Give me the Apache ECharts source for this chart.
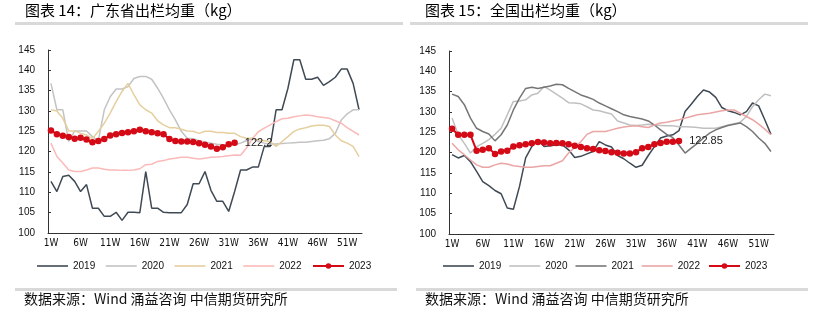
<!DOCTYPE html>
<html><head><meta charset="utf-8">
<script src="https://cdn.jsdelivr.net/npm/echarts@6.0.0/dist/echarts.min.js"></script>
<style>html,body{margin:0;padding:0;background:#fff}#c{width:827px;height:323px}</style>
</head><body><div id="c"></div>
<script>
var weeks = ['1W','2W','3W','4W','5W','6W','7W','8W','9W','10W','11W','12W','13W','14W','15W','16W','17W','18W','19W','20W','21W','22W','23W','24W','25W','26W','27W','28W','29W','30W','31W','32W','33W','34W','35W','36W','37W','38W','39W','40W','41W','42W','43W','44W','45W','46W','47W','48W','49W','50W','51W','52W','53W'];
var years = ['2019','2020','2021','2022','2023'];

// 图表14 广东省出栏均重
var gd2019 = [112.7,110.2,113.9,114.2,112.7,110.2,111.9,106.1,106.1,104.1,104.1,105.1,103.1,105.1,105.1,105,115.1,106.1,106.1,105.1,105,105,105,107,112.1,112.1,115.1,110.5,107.8,107.8,105.3,110.2,115.5,115.5,116.2,116.2,121.3,121.3,130.3,130.3,135.6,142.6,142.6,137.8,137.8,138.3,136.3,137.2,138.3,140.3,140.3,136.8,130.3];
var gd2020 = [136.8,130.3,130.3,122.5,125.1,125.1,125.1,123.7,122.7,130.3,133.5,135.4,135.4,136,138,138.5,138.5,137.8,135.6,133.1,130.3,127.8,125,123.3,123.2,122.7,122.3,122.1,121.8,121.7,121.5,121.7,122.1,122.7,123.2,122.5,122.1,121.9,121.9,122,122.1,122.2,122.3,122.3,122.5,122.7,122.8,123.2,124.5,127.8,129.3,130.3,130.3];
var gd2021 = [130.3,130,128.2,125.1,125.1,124.5,124.1,123.2,125,127,129.5,132.3,134.8,136.8,134,131.5,130.3,129.5,127.6,126.6,125.9,125.9,125.5,125.1,125,124.5,125,125,124.7,124.7,124.5,124.5,123.7,123.3,123.3,122.9,122.7,122.5,121.3,122.5,123.7,125,125.6,125.9,126.3,126.5,126.5,126.2,124.1,122.7,122.1,121.3,118.8];
var gd2022 = [122.1,118.8,117.2,115.5,115.1,115.1,115.5,116,116,115.7,115.5,115.5,115.4,115.4,115.5,115.8,116.8,116.9,117.6,117.8,118.2,118.4,118.6,118.6,118.4,118.2,118.4,118.6,118.7,118.8,119,119.2,119.1,120.9,123.2,124.9,125.8,126.6,127.4,128.1,128.2,128.6,128.8,129,128.9,128.6,128.4,128.2,127.6,127,125.9,125,124.1];
var gd2023 = [125.2,124.3,123.9,123.6,123.2,123.4,123,122.3,122.6,123.1,124,124.3,124.6,124.8,125,125.4,125,124.8,124.5,124.3,123.1,122.6,122.5,122.5,122.4,122.1,121.7,121.3,120.7,121.1,121.8,122.2];

// 图表15 全国出栏均重
var nat2019 = [119.5,118.7,119.3,117.8,115.4,112.9,111.9,110.7,109.9,106.4,106.1,111.7,118.7,121.5,123.2,121.5,121.7,121.9,121.9,120.7,118.8,119.1,119.7,120.3,122.7,121.9,121.4,119.3,118.5,117.4,116.4,116.9,119.3,121.5,123.6,124.1,124.4,125.4,130.1,131.9,133.8,135.4,134.9,133.6,131.1,130.3,129.9,129.3,130.1,132.2,131.5,128.1,124.5];
var nat2020 = [128.5,124.4,122.3,119.9,121.5,122.3,123.2,124.5,126,129.3,132.6,132.7,133,134.2,134.6,136.3,135.4,134.4,133.4,132.3,132.2,132,131.3,130.5,130.3,129.9,129.5,127.8,127.3,126.8,126.7,126.8,127,126.8,126.7,126.6,126.6,126.4,126.4,126.3,126.2,126,126,126,126.4,126.8,127.1,127.5,128.9,131.3,133,134.4,134];
var nat2021 = [134.4,133.8,131.8,128.5,126,125.2,124.6,122.9,124.4,126.8,130.5,133.4,135.8,136.1,135.8,136.1,136.4,136.8,136.7,135.8,135,134.2,133.7,133.1,132.2,131.5,130.8,130.1,129.3,128.9,128.6,128.3,127.8,126.8,125.6,124.5,123.7,121.9,119.9,121.1,122.3,123.6,124.8,125.6,126.2,126.7,127,127.3,126.4,125.2,123.6,122.3,120.3];
var nat2022 = [122.3,120.7,119.5,118.2,117,116.4,116.4,117,117.4,117.2,116.8,116.6,116.4,116.4,116.6,116.8,116.8,117.4,118,119.9,121.3,122.7,124.5,125.2,125.2,125.2,125.6,126,126.3,126.5,126.6,126.4,126.2,126.8,127.3,127.5,127.8,128.1,128.5,128.9,129.3,129.5,129.7,130,130.3,130.5,130.5,129.7,128.9,128.1,127,125.8,124.4];
var nat2023 = [125.9,124.4,124.4,124.4,120.5,120.7,121.1,119.7,120.3,120.5,121.5,121.8,122.1,122.3,122.6,122.5,122.3,122.4,122.3,122.1,121.7,121.4,121.1,120.9,120.6,120.4,120.1,120,119.8,119.8,120.1,121.1,121.4,122.1,122.4,122.7,122.7,122.85];

var colorsL = ['#3f4a55','#c3c3c3','#e6cf9f','#fbb9b9','#d40a16'];
var colorsR = ['#3f4a55','#c0c0c0','#767676','#eaa5a5','#d40a16'];
var FONT = "'Liberation Sans', Arial, sans-serif";
var CJK = "'Noto Sans CJK SC', sans-serif";
var LINE_ICON = 'path://M0,0H31V1.6H0Z';

function lineSeries(name, data, color, gi) {
  return {type:'line', name:name, data:data, xAxisIndex:gi, yAxisIndex:gi,
    symbol:'none', lineStyle:{color:color, width:1.5}, itemStyle:{color:color},
    emphasis:{disabled:true}, animation:false};
}
function redSeries(name, data, color, gi) {
  var d = data.map(function(v, i){
    if (i === data.length - 1) return {value:v, label:{show:true, position:'right', distance:7,
      color:'#222', fontSize:11, fontFamily:FONT, formatter:'{c}'}};
    return v;
  });
  return {type:'line', name:name, data:d, xAxisIndex:gi, yAxisIndex:gi,
    symbol:'circle', symbolSize:6.5, showSymbol:true, showAllSymbol:true,
    lineStyle:{color:color, width:2}, itemStyle:{color:color},
    emphasis:{disabled:true}, animation:false, z:5};
}
function xAxis(gi) {
  return {type:'category', gridIndex:gi, data:weeks, boundaryGap:true,
    axisLine:{lineStyle:{color:'#333', width:1}},
    axisTick:{inside:true, length:3, interval:4, lineStyle:{color:'#333'}},
    axisLabel:{interval:4, margin:5, fontSize:10, color:'#111',
      fontFamily:"'Liberation Sans Narrow','DejaVu Sans Condensed', Arial, sans-serif"}};
}
function yAxis(gi) {
  return {type:'value', gridIndex:gi, min:100, max:145, interval:5,
    axisLine:{show:true, lineStyle:{color:'#333', width:1}},
    axisTick:{show:true, inside:true, length:3, lineStyle:{color:'#333'}},
    splitLine:{show:false},
    axisLabel:{margin:13, fontSize:10, color:'#111', fontFamily:FONT}};
}
function legendData(names) {
  return names.map(function(n, i){ return i < 4 ? {name:n, icon:LINE_ICON} : {name:n}; });
}
var namesR = years.map(function(y){ return y + ' '; });

var seriesL = [gd2019, gd2020, gd2021, gd2022];
var seriesR = [nat2019, nat2020, nat2021, nat2022];
var series = [];
seriesL.forEach(function(d, i){ series.push(lineSeries(years[i], d, colorsL[i], 0)); });
series.push(redSeries(years[4], gd2023, colorsL[4], 0));
seriesR.forEach(function(d, i){ series.push(lineSeries(namesR[i], d, colorsR[i], 1)); });
series.push(redSeries(namesR[4], nat2023, colorsR[4], 1));

var chart = echarts.init(document.getElementById('c'), null, {renderer:'canvas'});
chart.setOption({
  animation:false,
  grid:[{left:48, top:50, width:314, height:183}, {left:449, top:51, width:325, height:183}],
  xAxis:[xAxis(0), xAxis(1)],
  yAxis:[yAxis(0), yAxis(1)],
  legend:[
    {data:legendData(years), left:37, top:261, padding:0, itemWidth:31, itemHeight:7, itemGap:10.5,
      symbolKeepAspect:true,
      textStyle:{fontSize:10, color:'#111', fontFamily:FONT}, selectedMode:false},
    {data:legendData(namesR), left:443, top:261, padding:0, itemWidth:31, itemHeight:7, itemGap:8,
      symbolKeepAspect:true,
      formatter:function(n){ return n.trim(); },
      textStyle:{fontSize:10, color:'#111', fontFamily:FONT}, selectedMode:false}
  ],
  graphic:[
    {type:'text', left:25, top:3, style:{text:'图表 14：广东省出栏均重（kg）', font:'15px '+CJK, fill:'#000'}},
    {type:'text', left:425, top:3, style:{text:'图表 15：全国出栏均重（kg）', font:'15px '+CJK, fill:'#000'}},
    {type:'rect', shape:{x:15, y:22, width:388, height:3}, style:{fill:'#d9d9d9'}},
    {type:'rect', shape:{x:410, y:22, width:398, height:3}, style:{fill:'#d9d9d9'}},
    {type:'rect', shape:{x:15, y:288, width:382, height:3}, style:{fill:'#d9d9d9'}},
    {type:'rect', shape:{x:416, y:288, width:392, height:3}, style:{fill:'#d9d9d9'}},
    {type:'text', left:24, top:292, style:{text:'数据来源：Wind 涌益咨询 中信期货研究所', font:'14px '+CJK, fill:'#111'}},
    {type:'text', left:425, top:292, style:{text:'数据来源：Wind 涌益咨询 中信期货研究所', font:'14px '+CJK, fill:'#111'}}
  ],
  series:series
});
</script></body></html>
